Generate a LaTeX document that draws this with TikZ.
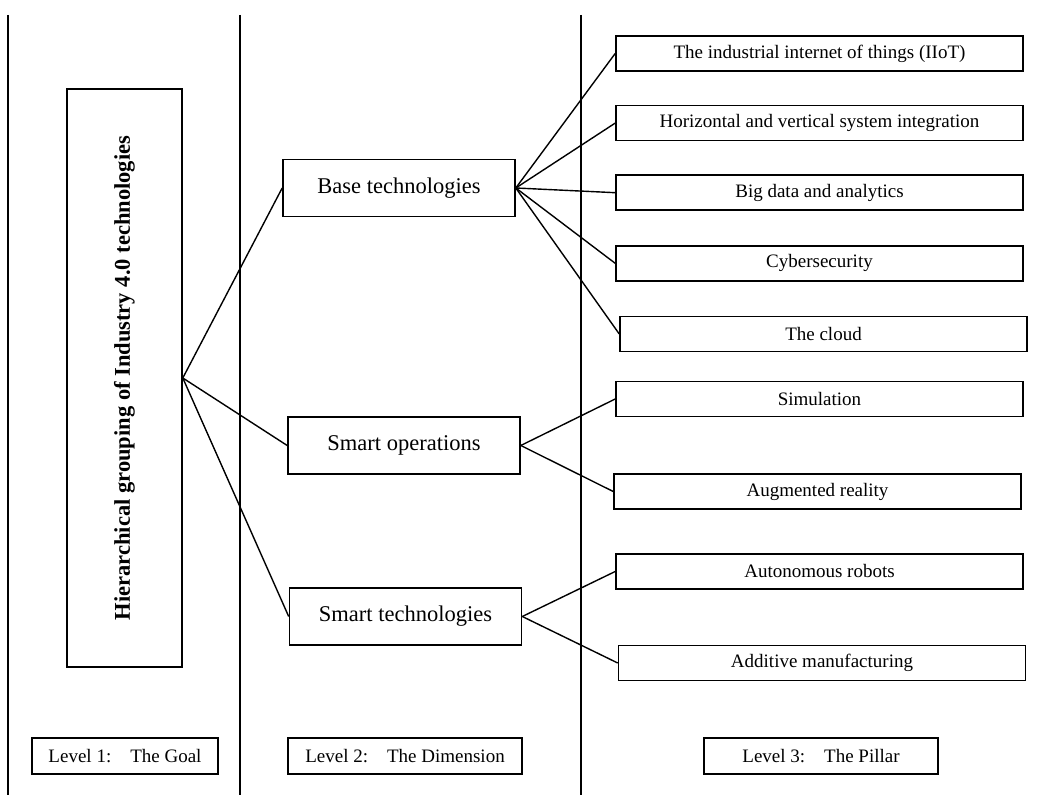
\documentclass[tikz,border=0pt]{standalone}
\usepackage{fontspec}
\setmainfont{Liberation Serif}
\usetikzlibrary{positioning}

\newcommand{\lvltext}[2]{Level #1:\hspace{1em}#2}

\begin{document}
\begin{tikzpicture}[
        x=0.5pt, y=-0.5pt,
        node distance=16.5pt,
        every node/.style={draw, rectangle, line width=0.8pt, inner sep=0pt, align=center},
        goalbox/.style={minimum width=57.5pt, minimum height=289pt, font=\fontsize{11.25}{13}\selectfont\bfseries},
        dimbox/.style={minimum width=116pt, minimum height=28.5pt, font=\fontsize{11.25}{13}\selectfont},
        pillarbox/.style={minimum width=203.5pt, minimum height=17.5pt, font=\fontsize{9.5}{11}\selectfont},
        levelbox/.style={minimum width=117pt, minimum height=18pt, font=\fontsize{9.5}{11}\selectfont},
        link/.style={line width=0.7pt}
    ]
        \useasboundingbox (0,0) rectangle (1050,795);

        % column separators
        \draw[link] (8,15) -- (8,795);
        \draw[link] (240,15) -- (240,795);
        \draw[link] (581,15) -- (581,795);

        % level 1
        \node[goalbox] (goal) at (124.5,378) {\rotatebox{90}{Hierarchical grouping of Industry 4.0 technologies}};

        % level 2
        \node[dimbox] (base) at (399,188) {Base technologies};
        \node[dimbox] (smartop) at (404,445.5) {Smart operations};
        \node[dimbox] (smarttech) at (405.5,616.5) {Smart technologies};

        % level 3
        \node[pillarbox] (iiot) at (819.5,53.5) {The industrial internet of things (IIoT)};
        \node[pillarbox] (integ) [below=of iiot] {Horizontal and vertical system integration};
        \node[pillarbox] (bigdata) [below=of integ] {Big data and analytics};
        \node[pillarbox] (cyber) [below=17pt of bigdata] {Cybersecurity};
        \node[pillarbox] (cloud) [below=17pt of cyber, xshift=2pt] {The cloud};
        \node[pillarbox] (sim) at (819.5,399) {Simulation};
        \node[pillarbox] (ar) at (817.5,491.5) {Augmented reality};
        \node[pillarbox] (robots) at (819.5,571.5) {Autonomous robots};
        \node[pillarbox] (additive) at (822,663) {Additive manufacturing};

        % level labels
        \node[levelbox, minimum width=93pt] (lvlone) at (125,756) {\lvltext{1}{The Goal}};
        \node[levelbox] (lvltwo) at (405,756) {\lvltext{2}{The Dimension}};
        \node[levelbox] (lvlthree) at (821,756) {\lvltext{3}{The Pillar}};

        \draw[link] (goal.east) -- (base.west);
        \draw[link] (goal.east) -- (smartop.west);
        \draw[link] (goal.east) -- (smarttech.west);

        \draw[link] (base.east) -- (iiot.west);
        \draw[link] (base.east) -- (integ.west);
        \draw[link] (base.east) -- (bigdata.west);
        \draw[link] (base.east) -- (cyber.west);
        \draw[link] (base.east) -- (cloud.west);

        \draw[link] (smartop.east) -- (sim.west);
        \draw[link] (smartop.east) -- (ar.west);

        \draw[link] (smarttech.east) -- (robots.west);
        \draw[link] (smarttech.east) -- (additive.west);
    \end{tikzpicture}
\end{document}
